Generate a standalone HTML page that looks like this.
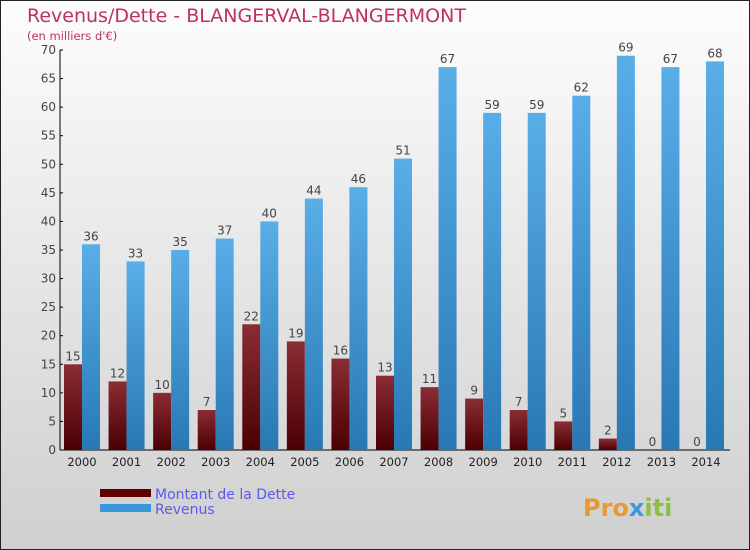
<!DOCTYPE html>
<html><head><meta charset="utf-8"><style>
body{margin:0;}
svg{display:block;font-family:"DejaVu Sans","Liberation Sans",sans-serif;}
</style></head><body>
<svg width="750" height="550" viewBox="0 0 750 550">
<defs>
<linearGradient id="bg" x1="0" y1="0" x2="0" y2="1"><stop offset="0" stop-color="#fdfdfd"/><stop offset="1" stop-color="#cfcfcf"/></linearGradient>
<linearGradient id="gd" x1="0" y1="0" x2="0" y2="1"><stop offset="0" stop-color="#8a2d35"/><stop offset="1" stop-color="#4a0003"/></linearGradient>
<linearGradient id="gr" x1="0" y1="0" x2="0" y2="1"><stop offset="0" stop-color="#5aaee8"/><stop offset="1" stop-color="#2878b4"/></linearGradient>
</defs>
<rect x="0.5" y="0.5" width="749" height="549" fill="url(#bg)" stroke="#222"/>
<text x="27" y="22" font-size="19" fill="#c0305a">Revenus/Dette - BLANGERVAL-BLANGERMONT</text>
<text x="27" y="40" font-size="11.5" fill="#c0305a">(en milliers d'€)</text>
<g id="axes"></g>
<g id="bars"></g>
<rect x="100" y="489" width="51" height="8" fill="#600000"/>
<rect x="100" y="504" width="51" height="8" fill="#3898dc"/>
<text x="155" y="499" font-size="14" fill="#5a5af0">Montant de la Dette</text>
<text x="155" y="514" font-size="14" fill="#5a5af0">Revenus</text>
<text x="583" y="516" font-size="24" font-weight="bold" fill="#e89a30">Pro<tspan fill="#3a9ad8">x</tspan><tspan fill="#8cc040">iti</tspan></text>
</svg>
<script>
const years=["2000","2001","2002","2003","2004","2005","2006","2007","2008","2009","2010","2011","2012","2013","2014"];
const dette=[15,12,10,7,22,19,16,13,11,9,7,5,2,0,0];
const revenus=[36,33,35,37,40,44,46,51,67,59,59,62,69,67,68];
const yTicks=[0,5,10,15,20,25,30,35,40,45,50,55,60,65,70];
const NS="http://www.w3.org/2000/svg";
const y0=450,ppu=400/70,x0=82,step=(706-82)/14,bw=18;
const yS=v=>y0-v*ppu, xS=i=>x0+i*step;
function mk(t,a,p){const e=document.createElementNS(NS,t);for(const k in a)e.setAttribute(k,a[k]);p.appendChild(e);return e;}
const ax=document.getElementById('axes'),bars=document.getElementById('bars');
let l=mk('line',{x1:60,y1:50,x2:60,y2:450,stroke:'#000'},ax);


l=mk('line',{x1:60,y1:450,x2:730,y2:450,stroke:'#000'},ax);


yTicks.forEach(v=>{
 mk('line',{x1:60,y1:yS(v),x2:63,y2:yS(v),stroke:'#000'},ax);
 const t=mk('text',{x:56,y:yS(v)+4,'text-anchor':'end','font-size':12,fill:'#444'},ax);
 t.textContent=v;
 
 
});
years.forEach((yr,i)=>{
 const cx=xS(i);
 const t=mk('text',{x:cx,y:466,'text-anchor':'middle','font-size':11.5,fill:'#222'},ax);
 t.textContent=yr;
 
 
 const b1=mk('rect',{x:cx-bw,y:yS(dette[i]),width:bw,height:dette[i]*ppu,fill:'url(#gd)'},bars);
 
 
 const b2=mk('rect',{x:cx,y:yS(revenus[i]),width:bw,height:revenus[i]*ppu,fill:'url(#gr)'},bars);
 
 
 const l1=mk('text',{x:cx-bw/2,y:yS(dette[i])-4,'text-anchor':'middle','font-size':12,fill:'#444'},bars);
 l1.textContent=dette[i];
 
 
 const l2=mk('text',{x:cx+bw/2,y:yS(revenus[i])-4,'text-anchor':'middle','font-size':12,fill:'#444'},bars);
 l2.textContent=revenus[i];
 
 
});
</script>
</body></html>
